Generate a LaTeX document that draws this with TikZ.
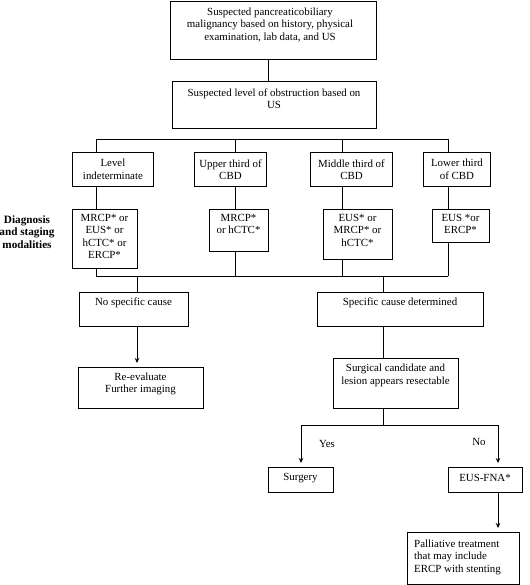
\documentclass[tikz,border=0pt]{standalone}
\usepackage{fontspec}
\setmainfont{Liberation Serif}
\usetikzlibrary{arrows.meta}
\newcommand{\mybox}[5]{%
  \node[boxst, minimum width=#4pt-#2pt, minimum height=#5pt-#3pt, anchor=north west] (#1) at (#2,#3) {};}
\begin{document}
\begin{tikzpicture}[x=1pt,y=-1pt,
  boxst/.style={draw, line width=0.9pt, inner sep=0pt},
  txt/.style={align=center, font=\fontsize{10.9pt}{12.4pt}\selectfont, inner sep=0pt},
  ltxt/.style={align=left, font=\fontsize{10.9pt}{12.4pt}\selectfont, inner sep=0pt},
  lbl/.style={align=center, font=\fontsize{11.2pt}{12.6pt}\selectfont\bfseries, inner sep=0pt},
  conn/.style={line width=0.9pt},
  arr/.style={line width=0.9pt, -{Stealth[length=5pt,width=4.5pt]}, shorten >=4pt}]
\useasboundingbox (0,0) rectangle (529,585);
% boxes
\mybox{top}{170}{1}{376}{59}
\mybox{obs}{172}{81}{376}{128}
\mybox{lvA}{72}{152}{153}{186}
\mybox{lvB}{194}{152}{266}{186}
\mybox{lvC}{310}{152}{392}{186}
\mybox{lvD}{423}{152}{490}{186}
\mybox{mdA}{72}{209}{137}{268}
\mybox{mdB}{209}{209}{268}{251}
\mybox{mdC}{323}{209}{392}{259}
\mybox{mdD}{432}{209}{489}{242}
\mybox{nsc}{79}{292}{188}{326}
\mybox{scd}{317}{292}{483}{326}
\mybox{ree}{78}{367}{203}{408}
\mybox{sur}{333}{358}{458}{408}
\mybox{sug}{268}{467}{333}{492}
\mybox{fna}{448}{467}{522}{492}
\mybox{pal}{407}{532}{519}{584}
% texts
\node[txt] (topt) at (270,25) {Suspected pancreaticobiliary\\malignancy based on history, physical\\examination, lab data, and US};
\node[txt] (obst) at (274,98.5) {Suspected level of obstruction based on\\US};
\node[txt] (lvAt) at (lvA) {Level\\indeterminate};
\node[txt] (lvBt) at (lvB) {Upper third of\\CBD};
\node[txt] (lvCt) at (lvC) {Middle third of\\CBD};
\node[txt] (lvDt) at (lvD) {Lower third\\of CBD};
\node[txt, anchor=north] (mdAt) at (104.5,214) {MRCP* or\\EUS* or\\hCTC* or\\ERCP*};
\node[txt, anchor=north] (mdBt) at (238.5,214) {MRCP*\\or hCTC*};
\node[txt, anchor=north] (mdCt) at (357.5,214) {EUS* or\\MRCP* or\\hCTC*};
\node[txt, anchor=north] (mdDt) at (460.5,214) {EUS *or\\ERCP*};
\node[lbl] (diag) at (27,232) {Diagnosis\\and staging\\modalities};
\node[txt] (nsct) at (133.5,303) {No specific cause};
\node[txt] (scdt) at (400,303) {Specific cause determined};
\node[txt] (reet) at (140.5,384) {Re-evaluate\\Further imaging};
\node[txt] (surt) at (395.5,375.5) {Surgical candidate and\\lesion appears resectable};
\node[txt] (sugt) at (300.5,478) {Surgery};
\node[txt] (fnat) at (485,478) {EUS-FNA*};
\node[ltxt, anchor=west] (palt) at (414,557) {Palliative treatment\\that may include\\ERCP with stenting};
\node[txt] (yes) at (327,444) {Yes};
\node[txt] (no) at (479,442) {No};
% junction coordinates
\coordinate (xa) at (96,139);
\coordinate (xb) at (235,139);
\coordinate (xc) at (342,139);
\coordinate (xd) at (448,139);
\coordinate (ba) at (96,276);
\coordinate (bd) at (448,276);
\coordinate (xn) at (137,276);
\coordinate (xs) at (383,276);
\coordinate (ty) at (301,425);
\coordinate (tn) at (498,425);
\coordinate (tc) at (383,425);
\coordinate (xt) at (268,0);
% connectors
\draw[conn] (top.south -| xt) -- (obs.north -| xt);
\draw[conn] (xa) -- (xd);
\draw[conn] (xa) -- (lvA.north -| xa);
\draw[conn] (xb) -- (lvB.north -| xb);
\draw[conn] (xc) -- (lvC.north -| xc);
\draw[conn] (xd) -- (lvD.north -| xd);
\draw[conn] (lvA.south -| xa) -- (mdA.north -| xa);
\draw[conn] (lvB.south -| xb) -- (mdB.north -| xb);
\draw[conn] (lvC.south -| xc) -- (mdC.north -| xc);
\draw[conn] (lvD.south -| xd) -- (mdD.north -| xd);
\draw[conn] (mdA.south -| xa) -- (ba);
\draw[conn] (mdB.south -| xb) -- (ba -| xb);
\draw[conn] (mdC.south -| xc) -- (ba -| xc);
\draw[conn] (mdD.south -| xd) -- (bd);
\draw[conn] (ba) -- (bd);
\draw[conn] (xn) -- (nsc.north -| xn);
\draw[conn] (xs) -- (scd.north -| xs);
\draw[arr] (nsc.south -| xn) -- (ree.north -| xn);
\draw[conn] (scd.south -| xs) -- (sur.north -| xs);
\draw[conn] (sur.south -| xs) -- (tc);
\draw[conn] (ty) -- (tn);
\draw[arr] (ty) -- (sug.north -| ty);
\draw[arr] (tn) -- (fna.north -| tn);
\draw[arr] (fna.south -| tn) -- (pal.north -| tn);
\end{tikzpicture}
\end{document}
